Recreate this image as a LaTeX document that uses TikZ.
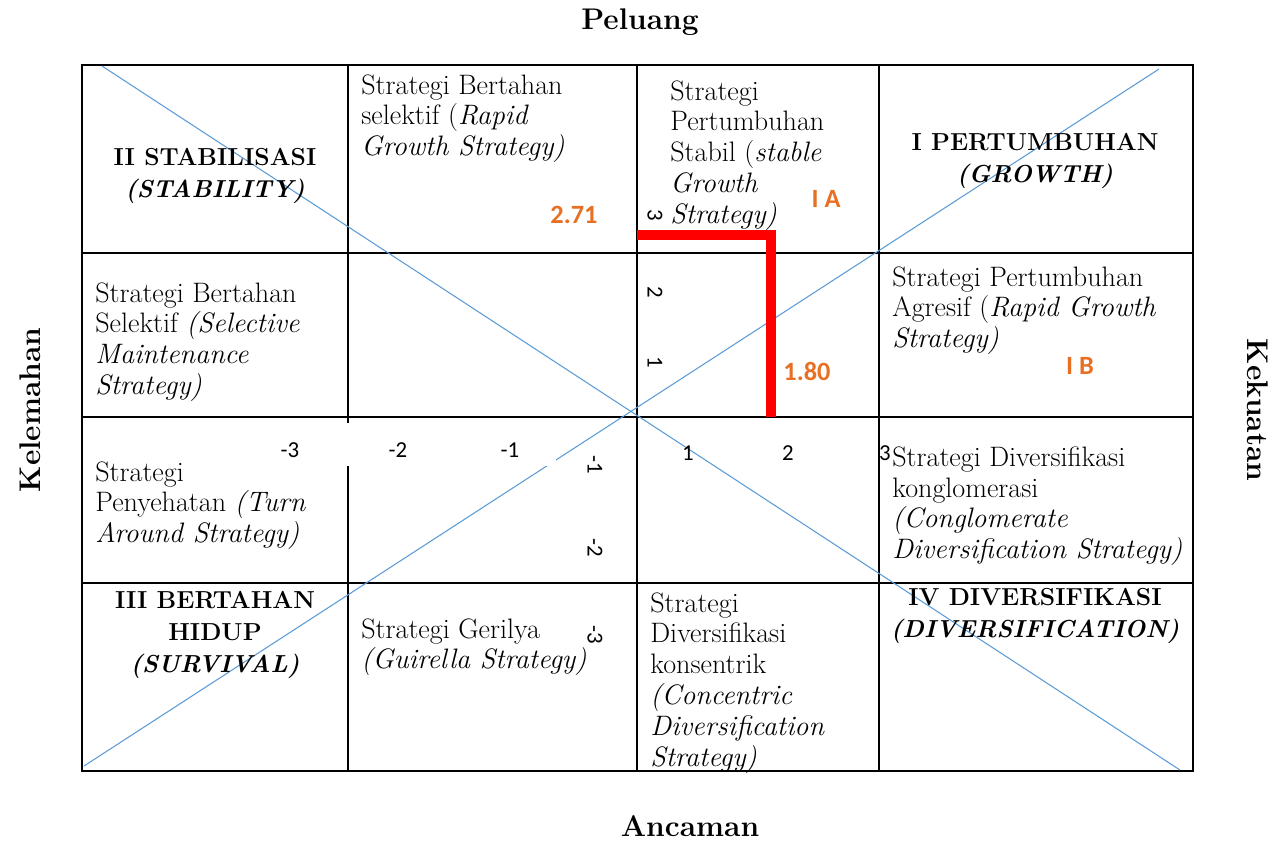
\documentclass[tikz,border=0pt]{standalone}
\usepackage{fontspec}
\newfontfamily\numfont{Carlito}
\usetikzlibrary{positioning}
\definecolor{diagblue}{RGB}{91,155,213}
\definecolor{scoreorange}{RGB}{232,112,36}
\tikzset{
grid/.style={line width=1.1pt}, % the black lines of the matrix
diag/.style={diagblue, line width=0.6pt}, % the two crossing lines
cell/.style={anchor=north west, align=left, inner sep=0pt, font=\fontsize{16}{17.6}\selectfont}, % strategy texts
head/.style={align=center, inner sep=0pt, font=\fontsize{14}{18.2}\selectfont\bfseries}, % quadrant names
axis/.style={font=\fontsize{17}{20}\selectfont\bfseries}, % the four sides
tick/.style={font=\numfont\fontsize{13}{15}\selectfont, inner sep=1pt}, % axis numbers
score/.style={font=\numfont\fontsize{15}{18}\selectfont\bfseries, text=scoreorange}, % scores
}
\begin{document}
\begin{tikzpicture}[x=0.02cm, y=-0.02cm]
\useasboundingbox (0,0) rectangle (1281,840);
% matrix
\draw[grid] (82,65) rectangle (1193,771);
\foreach \x in {348,637,879}
    \draw[grid] (\x,65) -- (\x,771);
\foreach \y in {253,417,583}
    \draw[grid] (82,\y) -- (1193,\y);
% diagonals
\coordinate (dtl) at (102,66);
\coordinate (dbr) at (1180,770);
\coordinate (dbl) at (84,766);
\coordinate (dtr) at (1159,69);
\draw[diag] (dtl) -- (dbr);
\draw[diag] (dbl) -- (dtr);
\fill[white] (340,423) rectangle (556,466);
% position of the firm
\draw[red, line width=6pt] (637,235) -| (771,417);
% sides
\node[axis] (peluang) at (640,22) {Peluang};
\node[axis] (ancaman) at (690,826) {Ancaman};
\node[axis, rotate=90] (kelemahan) at (30,410) {Kelemahan};
\node[axis, rotate=-90] (kekuatan) at (1258,410) {Kekuatan};
% quadrants
\node[head] (q2) at (215,176) {II STABILISASI\\\textit{(STABILITY)}};
\node[head] (q1) at (1035,161) {I PERTUMBUHAN\\\textit{(GROWTH)}};
\node[head] (q3) at (215,635) {III BERTAHAN\\HIDUP\\\textit{(SURVIVAL)}};
\node[head] (q4) at (1035,616) {IV DIVERSIFIKASI\\\textit{(DIVERSIFICATION)}};
% strategies
\node[cell] (c12) at (361,74) {Strategi Bertahan\\selektif (\textit{Rapid}\\\textit{Growth Strategy)}};
\node[cell] (c13) at (670,80) {Strategi\\Pertumbuhan\\Stabil (\textit{stable}\\\textit{Growth}\\\textit{Strategy)}};
\node[cell] (c21) at (95,282) {Strategi Bertahan\\Selektif \textit{(Selective}\\\textit{Maintenance}\\\textit{Strategy)}};
\node[cell] (c24) at (892,266) {Strategi Pertumbuhan\\Agresif (\textit{Rapid Growth}\\\textit{Strategy)}};
\node[cell] (c31) at (95,461) {Strategi\\Penyehatan \textit{(Turn}\\\textit{Around Strategy)}};
\node[cell] (c34) at (892,446) {Strategi Diversifikasi\\konglomerasi\\\textit{(Conglomerate}\\\textit{Diversification Strategy)}};
\node[cell] (c42) at (361,618) {Strategi Gerilya\\\textit{(Guirella Strategy)}};
\node[cell] (c43) at (650,592) {Strategi\\Diversifikasi\\konsentrik\\\textit{(Concentric}\\\textit{Diversification}\\\textit{Strategy)}};
% axis numbers
\node[tick] (xm3) at (290,450) {-3};
\node[tick] (xm2) at (398,450) {-2};
\node[tick] (xm1) at (510,450) {-1};
\node[tick] (xp1) at (688,453) {1};
\node[tick] (xp2) at (788,453) {2};
\node[tick] (xp3) at (885,453) {3};
\node[tick, rotate=-90] (yp3) at (655,215) {3};
\node[tick, rotate=-90] (yp2) at (655,292) {2};
\node[tick, rotate=-90] (yp1) at (655,362) {1};
\node[tick, rotate=-90] (ym1) at (595,465) {-1};
\node[tick, rotate=-90] (ym2) at (595,548) {-2};
\node[tick, rotate=-90] (ym3) at (595,635) {-3};
% scores
\node[score] (s271) at (574,215) {2.71};
\node[score] (s180) at (807,371) {1.80};
\node[score] (ia) at (826,199) {I A};
\node[score] (ib) at (1080,366) {I B};
\end{tikzpicture}
\end{document}
